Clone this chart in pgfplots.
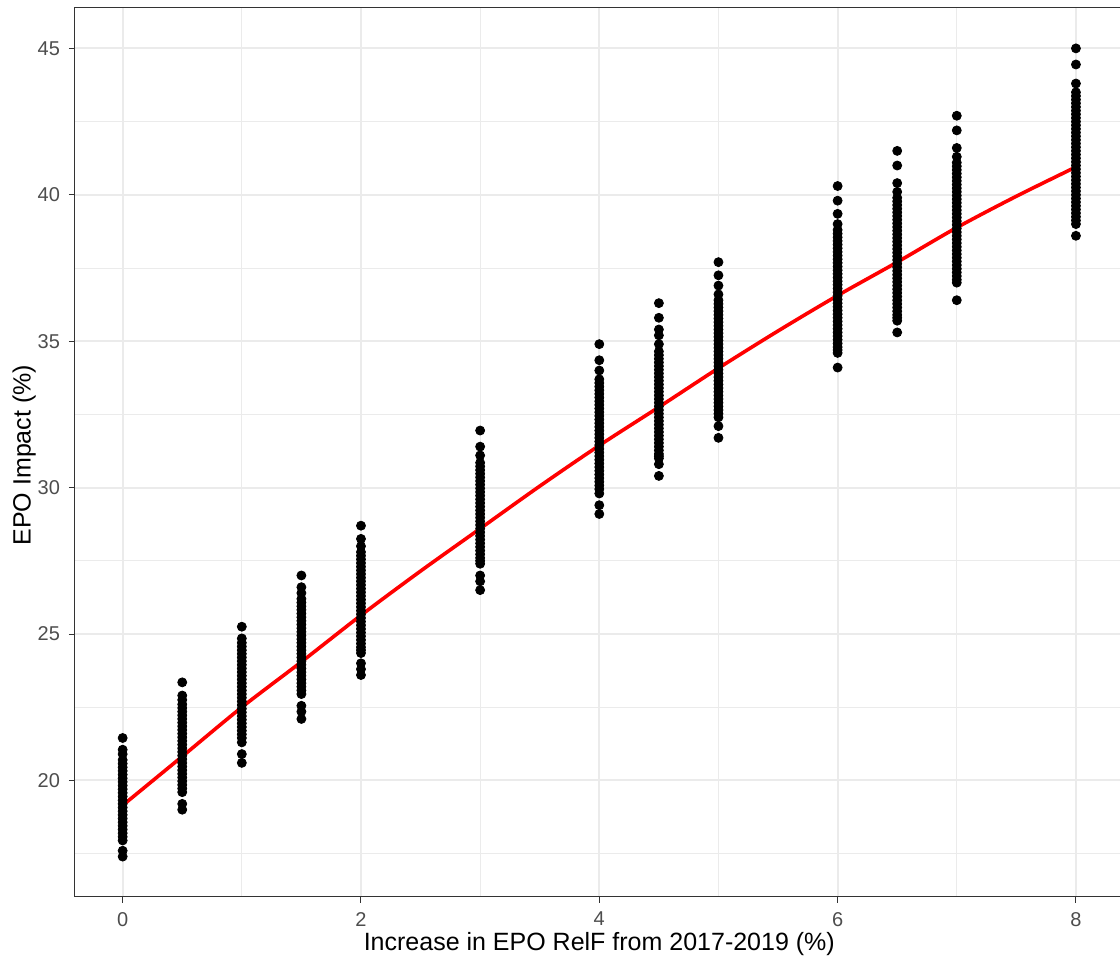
\documentclass[border=0pt]{standalone}
\usepackage{pgfplots}
\pgfplotsset{compat=1.18}
\usepackage{pgfplotstable}
\usepackage{fontspec}
\setmainfont{Liberation Sans}
\definecolor{gridc}{HTML}{EBEBEB}
\definecolor{tickc}{HTML}{4D4D4D}
\definecolor{framec}{HTML}{333333}

\pgfplotstableread{
x y
0 21.45
0 21.05
0 20.9
0 20.7
0 20.45
0 20.2
0 19.95
0 19.7
0 19.45
0 19.2
0 18.95
0 18.7
0 18.45
0 18.2
0 17.95
0 17.6
0 17.4
0.5 23.35
0.5 22.9
0.5 22.75
0.5 22.6
0.5 22.35
0.5 22.1
0.5 21.85
0.5 21.6
0.5 21.35
0.5 21.1
0.5 20.85
0.5 20.6
0.5 20.35
0.5 20.1
0.5 19.85
0.5 19.6
0.5 19.2
0.5 19.0
1 25.25
1 24.85
1 24.7
1 24.45
1 24.2
1 23.95
1 23.7
1 23.45
1 23.2
1 22.95
1 22.7
1 22.45
1 22.2
1 21.95
1 21.7
1 21.45
1 21.3
1 20.9
1 20.6
1.5 27.0
1.5 26.6
1.5 26.4
1.5 26.2
1.5 25.95
1.5 25.7
1.5 25.45
1.5 25.2
1.5 24.95
1.5 24.7
1.5 24.45
1.5 24.2
1.5 23.95
1.5 23.7
1.5 23.45
1.5 23.2
1.5 22.95
1.5 22.55
1.5 22.35
1.5 22.1
2 28.7
2 28.25
2 28.0
2 27.8
2 27.55
2 27.3
2 27.05
2 26.8
2 26.55
2 26.3
2 26.05
2 25.8
2 25.55
2 25.3
2 25.05
2 24.8
2 24.55
2 24.35
2 24.0
2 23.8
2 23.6
3 31.95
3 31.4
3 31.1
3 30.85
3 30.6
3 30.35
3 30.1
3 29.85
3 29.6
3 29.35
3 29.1
3 28.85
3 28.6
3 28.35
3 28.1
3 27.85
3 27.6
3 27.4
3 27.0
3 26.8
3 26.5
4 34.9
4 34.35
4 34.0
4 33.7
4 33.45
4 33.2
4 32.95
4 32.7
4 32.45
4 32.2
4 31.95
4 31.7
4 31.45
4 31.2
4 30.95
4 30.7
4 30.45
4 30.2
4 29.95
4 29.8
4 29.4
4 29.1
4.5 36.3
4.5 35.8
4.5 35.4
4.5 35.2
4.5 34.9
4.5 34.65
4.5 34.4
4.5 34.15
4.5 33.9
4.5 33.65
4.5 33.4
4.5 33.15
4.5 32.9
4.5 32.65
4.5 32.4
4.5 32.15
4.5 31.9
4.5 31.65
4.5 31.4
4.5 31.15
4.5 31.0
4.5 30.8
4.5 30.4
5 37.7
5 37.25
5 36.9
5 36.6
5 36.4
5 36.15
5 35.9
5 35.65
5 35.4
5 35.15
5 34.9
5 34.65
5 34.4
5 34.15
5 33.9
5 33.65
5 33.4
5 33.15
5 32.9
5 32.65
5 32.4
5 32.1
5 31.7
6 40.3
6 39.8
6 39.35
6 39.0
6 38.8
6 38.55
6 38.3
6 38.05
6 37.8
6 37.55
6 37.3
6 37.05
6 36.8
6 36.55
6 36.3
6 36.05
6 35.8
6 35.55
6 35.3
6 35.05
6 34.8
6 34.6
6 34.1
6.5 41.5
6.5 41.0
6.5 40.4
6.5 40.1
6.5 39.9
6.5 39.65
6.5 39.4
6.5 39.15
6.5 38.9
6.5 38.65
6.5 38.4
6.5 38.15
6.5 37.9
6.5 37.65
6.5 37.4
6.5 37.15
6.5 36.9
6.5 36.65
6.5 36.4
6.5 36.15
6.5 35.9
6.5 35.7
6.5 35.3
7 42.7
7 42.2
7 41.6
7 41.3
7 41.1
7 40.85
7 40.6
7 40.35
7 40.1
7 39.85
7 39.6
7 39.35
7 39.1
7 38.85
7 38.6
7 38.35
7 38.1
7 37.85
7 37.6
7 37.35
7 37.1
7 37.0
7 36.4
8 45.0
8 44.45
8 43.8
8 43.5
8 43.25
8 43.0
8 42.75
8 42.5
8 42.25
8 42.0
8 41.75
8 41.5
8 41.25
8 41.0
8 40.75
8 40.5
8 40.25
8 40.0
8 39.75
8 39.5
8 39.25
8 39.0
8 38.6
}\pts

\pgfplotstableread{
x y
0 20.575
0 20.325
0 20.075
0 19.825
0 19.575
0 19.325
0 19.075
0 18.825
0 18.575
0 18.325
0 18.075
0.5 22.475
0.5 22.225
0.5 21.975
0.5 21.725
0.5 21.475
0.5 21.225
0.5 20.975
0.5 20.725
0.5 20.475
0.5 20.225
0.5 19.975
0.5 19.725
1 24.575
1 24.325
1 24.075
1 23.825
1 23.575
1 23.325
1 23.075
1 22.825
1 22.575
1 22.325
1 22.075
1 21.825
1 21.575
1.5 26.075
1.5 25.825
1.5 25.575
1.5 25.325
1.5 25.075
1.5 24.825
1.5 24.575
1.5 24.325
1.5 24.075
1.5 23.825
1.5 23.575
1.5 23.325
1.5 23.075
2 27.675
2 27.425
2 27.175
2 26.925
2 26.675
2 26.425
2 26.175
2 25.925
2 25.675
2 25.425
2 25.175
2 24.925
2 24.675
2 24.45
3 30.725
3 30.475
3 30.225
3 29.975
3 29.725
3 29.475
3 29.225
3 28.975
3 28.725
3 28.475
3 28.225
3 27.975
3 27.725
3 27.5
4 33.575
4 33.325
4 33.075
4 32.825
4 32.575
4 32.325
4 32.075
4 31.825
4 31.575
4 31.325
4 31.075
4 30.825
4 30.575
4 30.325
4 30.075
4.5 34.525
4.5 34.275
4.5 34.025
4.5 33.775
4.5 33.525
4.5 33.275
4.5 33.025
4.5 32.775
4.5 32.525
4.5 32.275
4.5 32.025
4.5 31.775
4.5 31.525
4.5 31.275
4.5 31.075
5 36.275
5 36.025
5 35.775
5 35.525
5 35.275
5 35.025
5 34.775
5 34.525
5 34.275
5 34.025
5 33.775
5 33.525
5 33.275
5 33.025
5 32.775
5 32.525
6 38.675
6 38.425
6 38.175
6 37.925
6 37.675
6 37.425
6 37.175
6 36.925
6 36.675
6 36.425
6 36.175
6 35.925
6 35.675
6 35.425
6 35.175
6 34.925
6 34.7
6.5 39.775
6.5 39.525
6.5 39.275
6.5 39.025
6.5 38.775
6.5 38.525
6.5 38.275
6.5 38.025
6.5 37.775
6.5 37.525
6.5 37.275
6.5 37.025
6.5 36.775
6.5 36.525
6.5 36.275
6.5 36.025
6.5 35.8
7 40.975
7 40.725
7 40.475
7 40.225
7 39.975
7 39.725
7 39.475
7 39.225
7 38.975
7 38.725
7 38.475
7 38.225
7 37.975
7 37.725
7 37.475
7 37.225
8 43.375
8 43.125
8 42.875
8 42.625
8 42.375
8 42.125
8 41.875
8 41.625
8 41.375
8 41.125
8 40.875
8 40.625
8 40.375
8 40.125
8 39.875
8 39.625
8 39.375
8 39.125
}\ptsb

\pgfplotstableread{
x y
0 19.15
0.5 20.82
1 22.5
1.5 24.05
2 25.64
2.5 27.15
3 28.6
3.5 30.05
4 31.44
4.5 32.75
5 34.08
5.5 35.35
6 36.56
6.5 37.7
7 38.88
7.5 39.95
8 40.95
}\fit

\begin{document}
\begin{tikzpicture}
\path[use as bounding box] (-37.5pt,-32pt) rectangle (522.5pt,448.5pt);
\begin{axis}[
  at={(0,0)}, anchor=south west,
  scale only axis,
  width=524.3pt, height=444.5pt,
  xmin=-0.4, xmax=8.4,
  ymin=16.02, ymax=46.38,
  xtick={0,2,4,6,8},
  ytick={20,25,30,35,40,45},
  minor xtick={1,3,5,7},
  minor ytick={17.5,22.5,27.5,32.5,37.5,42.5},
  grid=both,
  major grid style={color=gridc, line width=1pt},
  minor grid style={color=gridc, line width=0.5pt},
  minor tick length=0pt,
  major tick length=3pt,
  tick align=outside,
  xtick pos=bottom, ytick pos=left,
  tick style={color=framec, line width=0.5pt},
  axis line style={color=framec, line width=0.5pt},
  /pgf/number format/assume math mode=true,
  ticklabel style={font=\fontsize{10}{12}\selectfont, text=tickc},
  xticklabel style={yshift=-1pt},
  yticklabel style={xshift=-1pt},
  label style={font=\fontsize{12.5}{15}\selectfont, text=black},
  xlabel={Increase in EPO RelF from 2017-2019 (\%)},
  ylabel={EPO Impact (\%)},
  xlabel style={at={(axis description cs:0.5,-0.0529)}, anchor=center},
  ylabel style={at={(axis description cs:-0.0486,0.497)}, anchor=center},
  clip=true,
]
\addplot[only marks, mark=*, mark size=2.25pt, black] table[x=x,y=y] {\pts};
\addplot[only marks, mark=*, mark size=2.25pt, black] table[x=x,y=y] {\ptsb};
\addplot[red, line width=1.8pt, smooth] table[x=x,y=y] {\fit};
\end{axis}
\end{tikzpicture}
\end{document}
